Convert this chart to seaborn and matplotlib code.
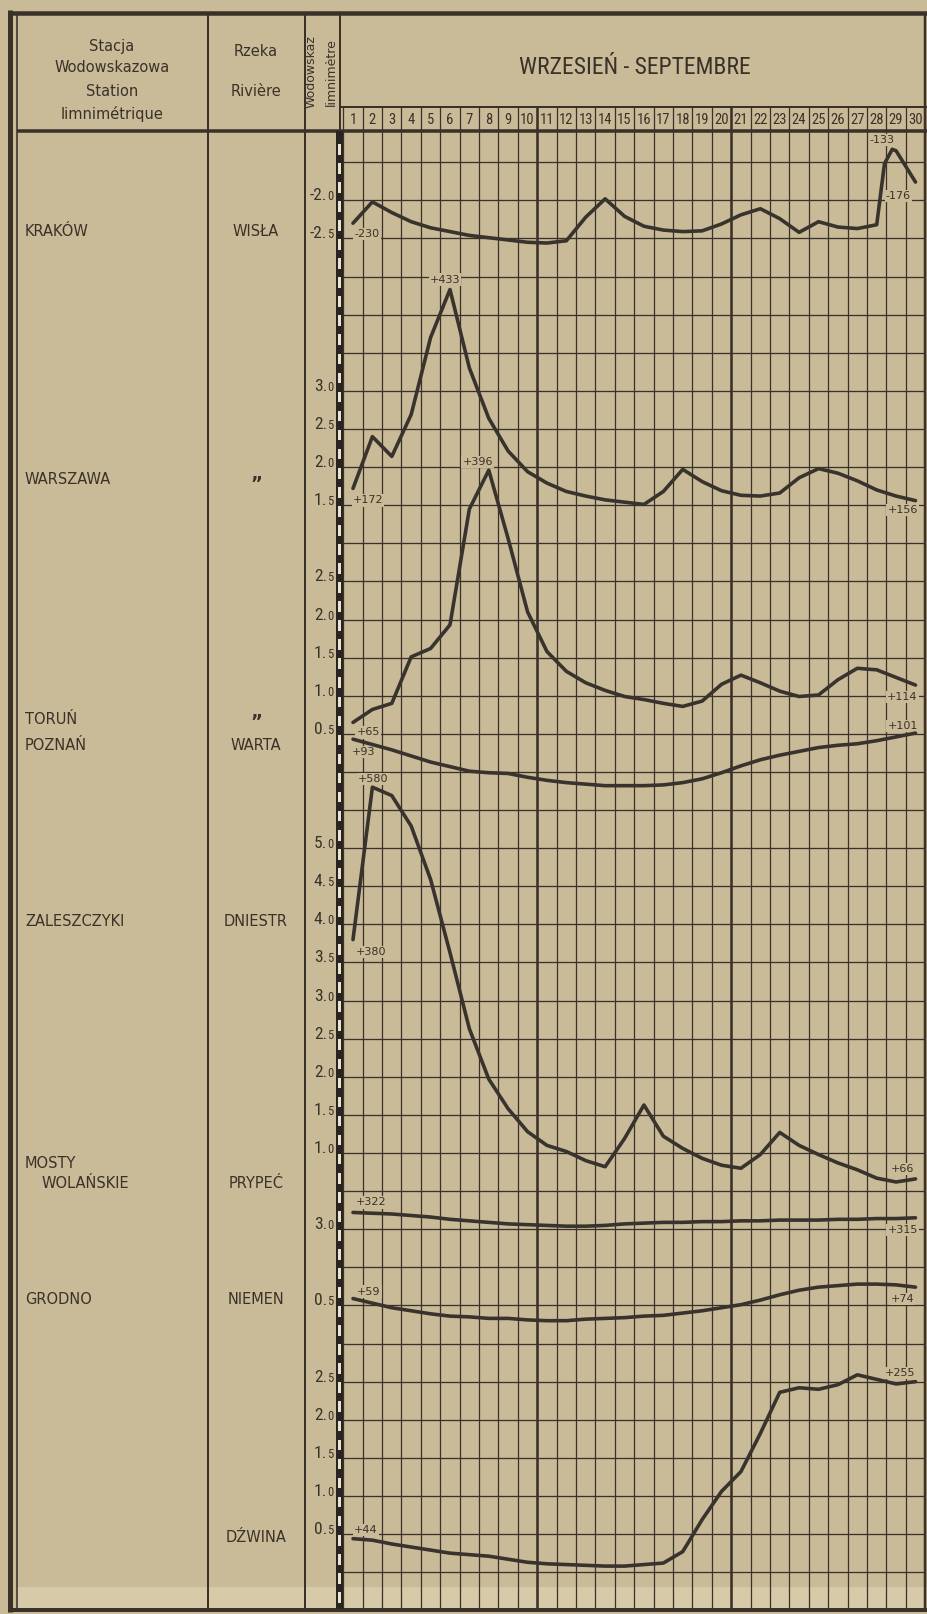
import numpy as np
import pandas as pd
import matplotlib
matplotlib.use("Agg")
import matplotlib.pyplot as plt
import matplotlib.transforms as mtransforms
from matplotlib import font_manager as fm
from matplotlib.patches import Rectangle
import seaborn as sns

# ---------------- data ----------------
days = list(range(1, 31))
day_labels = [str(d) for d in days]
title = "WRZESIEŃ - SEPTEMBRE"

station_names = ["KRAKÓW", "WARSZAWA", "TORUŃ", "POZNAŃ", "ZALESZCZYKI", "MOSTY", "WOLAŃSKIE", "GRODNO"]
river_names = ["WISŁA", "”", "”", "WARTA", "DNIESTR", "PRYPEĆ", "NIEMEN", "DŹWINA"]

# water levels (cm) read per day
krakow_days = days[:27] + [28, 28.4, 28.8, 29, 30]
krakow_cm = [-230, -202, -216, -228, -236, -241, -246, -249, -252, -255, -256, -253, -222, -198,
             -221, -234, -239, -241, -240, -231, -219, -211, -224, -242, -228, -235, -237,
             -232, -152, -133, -135, -176]
warszawa_cm = [172, 240, 214, 269, 370, 433, 330, 264, 221, 194, 179, 168, 162, 157, 154,
               151, 168, 197, 181, 169, 163, 162, 166, 186, 198, 192, 182, 170, 162, 156]
torun_cm = [65, 82, 90, 151, 162, 193, 345, 396, 306, 210, 158, 132, 117, 107, 99,
            95, 90, 86, 93, 115, 127, 117, 106, 99, 101, 121, 136, 134, 124, 114]
poznan_cm = [93, 86, 79, 71, 63, 57, 51, 49, 48, 43, 39, 36, 34, 32, 32,
             32, 33, 36, 41, 49, 58, 66, 72, 77, 82, 85, 87, 91, 96, 101]
zaleszczyki_cm = [380, 580, 569, 529, 459, 363, 263, 197, 158, 128, 110, 102, 90, 82, 119,
                  163, 122, 106, 93, 84, 80, 98, 127, 110, 98, 87, 78, 67, 62, 66]
prypec_cm = [322, 321, 320, 318, 316, 313, 311, 309, 307, 306, 305, 304, 304, 305, 307,
             308, 309, 309, 310, 310, 311, 311, 312, 312, 312, 313, 313, 314, 314, 315]
niemen_cm = [59, 53, 47, 43, 39, 36, 35, 33, 33, 31, 30, 30, 32, 33, 34,
             36, 37, 40, 43, 47, 51, 57, 64, 70, 74, 76, 78, 78, 77, 74]
dzwina_cm = [44, 42, 37, 33, 29, 25, 23, 21, 17, 13, 11, 10, 9, 8, 8,
             10, 12, 27, 69, 106, 132, 182, 236, 242, 240, 246, 259, 253, 247, 250]

# gauge zero of each station on the common sheet (m)
offsets = {"krakow": 20.0, "warszawa": 12.5, "torun": 10.5, "poznan": 10.0,
           "zaleszczyki": 4.5, "prypec": 1.5, "niemen": 3.0, "dzwina": 0.0}

# scale labels printed on the gauge column (m)
scale_ticks = {"krakow": [-2.0, -2.5], "warszawa": [3.0, 2.5, 2.0, 1.5],
               "torun": [2.5, 2.0, 1.5, 1.0, 0.5],
               "zaleszczyki": [5.0, 4.5, 4.0, 3.5, 3.0, 2.5, 2.0, 1.5, 1.0],
               "prypec": [3.0], "niemen": [0.5], "dzwina": [2.5, 2.0, 1.5, 1.0, 0.5]}

# printed readings: (station, day, text)
notes = [("krakow", 1, "-230"), ("krakow", 28.8, "-133"), ("krakow", 30, "-176"),
         ("warszawa", 6, "+433"), ("warszawa", 1, "+172"), ("warszawa", 30, "+156"),
         ("torun", 8, "+396"), ("torun", 1, "+65"), ("torun", 30, "+114"),
         ("poznan", 1, "+93"), ("poznan", 30, "+101"),
         ("zaleszczyki", 2, "+580"), ("zaleszczyki", 1, "+380"), ("zaleszczyki", 30, "+66"),
         ("prypec", 1, "+322"), ("prypec", 30, "+315"),
         ("niemen", 1, "+59"), ("niemen", 30, "+74"),
         ("dzwina", 1, "+44"), ("dzwina", 30, "+255")]

series = {"krakow": (krakow_days, krakow_cm), "warszawa": (days, warszawa_cm),
          "torun": (days, torun_cm), "poznan": (days, poznan_cm),
          "zaleszczyki": (days, zaleszczyki_cm), "prypec": (days, prypec_cm),
          "niemen": (days, niemen_cm), "dzwina": (days, dzwina_cm)}

frames = []
for key, (dd, cm) in series.items():
    frames.append(pd.DataFrame({"station": key, "day": dd, "cm": cm}))
df = pd.concat(frames, ignore_index=True)
df["level"] = df["cm"] / 100.0 + df["station"].map(offsets)

# ---------------- style ----------------
sns.set_theme(style="white")
names = {f.name for f in fm.fontManager.ttflist}
NARROW = None
for cand in ["Roboto Condensed", "Archivo Narrow", "Liberation Sans Narrow", "Asap Condensed"]:
    if cand in names:
        NARROW = cand
        break
plt.rcParams["font.family"] = ["DejaVu Sans"]

PAPER = "#c9ba98"
LIGHT = "#d6caa9"
INK = "#3a3129"
CURVE = "#39332e"

W, H = 927, 1614
fig = plt.figure(figsize=(W / 100, H / 100), dpi=100, facecolor=PAPER)

cv = fig.add_axes([0, 0, 1, 1])
cv.set_xlim(0, W)
cv.set_ylim(H, 0)
cv.axis("off")
cv.set_zorder(0)

# plot area geometry (pixels)
X0, X1 = 343.3, 925.2
YT, YB = 131.0, 1609.0
LV_TOP, LV_BOT = 18.91, -0.483
ax = fig.add_axes([X0 / W, 1 - YB / H, (X1 - X0) / W, (YB - YT) / H])
ax.set_zorder(2)
ax.patch.set_alpha(0)
ax.set_xlim(0.5, 30.5)
ax.set_ylim(LV_BOT, LV_TOP)
for s in ax.spines.values():
    s.set_visible(False)
ax.set_xticks([])
ax.set_yticks([])

lw_px = 72 / 100.0  # points per pixel

# light band near the bottom edge (paper wear)
cv.add_patch(Rectangle((17, 1587), 910, 22, color=LIGHT, lw=0, zorder=0.5))

# grid
bounds = np.arange(0.5, 31, 1.0)
for b in bounds:
    thick = b in (10.5, 20.5)
    ax.vlines(b, 0, 1 + 24 / (YB - YT), transform=ax.get_xaxis_transform(), clip_on=False,
              color=INK, lw=(2.6 if thick else 1.25) * lw_px, zorder=1)
for lv in np.arange(0, 18.6, 0.5):
    ax.axhline(lv, color=INK, lw=1.3 * lw_px, zorder=1)

# curves
sns.lineplot(data=df, x="day", y="level", units="station", estimator=None, sort=False,
             color=CURVE, linewidth=3.6 * lw_px, legend=False, ax=ax, zorder=3)
ax.set_xlabel("")
ax.set_ylabel("")
for ln in ax.lines[-8:]:
    ln.set_solid_capstyle("round")
    ln.set_solid_joinstyle("round")

# table frame
def hl(y, x0, x1, w):
    cv.plot([x0, x1], [y, y], color=INK, lw=w * lw_px, solid_capstyle="butt", zorder=2)

def vl(x, y0, y1, w):
    cv.plot([x, x], [y0, y1], color=INK, lw=w * lw_px, solid_capstyle="butt", zorder=2)

hl(12.5, 8, W, 4.5)
hl(1610, 8, W, 4.0)
vl(10.5, 10, 1612, 5.0)
vl(17, 12, 1610, 1.6)
vl(208, 12, 1610, 2.0)
vl(305, 12, 1610, 2.0)
vl(340, 12, 131, 2.0)
vl(925.5, 12, 1610, 2.5)
hl(131, 17, W, 3.5)
hl(107, 340, W, 2.0)

# gauge staff (black bar with white marks every 0.25 m)
blend = mtransforms.blended_transform_factory(cv.transData, ax.transData)
ax.add_patch(Rectangle((336, LV_BOT), 7, LV_TOP - LV_BOT, transform=blend, clip_on=False,
                       color="#2a2420", lw=0, zorder=4))
for lv in np.arange(LV_BOT + 0.083, LV_TOP - 0.1, 0.25):
    ax.add_patch(Rectangle((338.3, lv), 2.6, 0.14, transform=blend, clip_on=False,
                           color="#ece3cc", lw=0, zorder=5))

# fonts
NF = [NARROW, "DejaVu Sans"] if NARROW else ["DejaVu Sans"]
num_big = 12.5 if NARROW else 10.5
num_small = 9 if NARROW else 7.5

# scale labels
for key, ticks in scale_ticks.items():
    for t in ticks:
        lv = t + offsets[key]
        s = f"{t:.1f}"
        big, small = s[:-1], s[-1]
        ax.text(327, lv, big, transform=blend, ha="right", va="baseline", fontsize=num_big,
                family=NF, color=INK, clip_on=False, zorder=6)
        ax.text(327, lv, small, transform=blend, ha="left", va="baseline", fontsize=num_small,
                family=NF, color=INK, clip_on=False, zorder=6)

# printed readings
note_offsets = {("krakow", 1): (14, 11), ("krakow", 28.8): (-10, -9), ("krakow", 30): (-17, 14),
                ("warszawa", 6): (-5, -10), ("warszawa", 1): (15, 12), ("warszawa", 30): (-13, 9),
                ("torun", 8): (-11, -8), ("torun", 1): (15, 10), ("torun", 30): (-13, 12),
                ("poznan", 1): (11, 13), ("poznan", 30): (-13, -7),
                ("zaleszczyki", 2): (1, -8), ("zaleszczyki", 1): (18, 12), ("zaleszczyki", 30): (-13, -10),
                ("prypec", 1): (18, -10), ("prypec", 30): (-13, 12),
                ("niemen", 1): (16, -7), ("niemen", 30): (-13, 12),
                ("dzwina", 1): (13, -9), ("dzwina", 30): (-15, -9)}
for key, d, txt in notes:
    row = df[(df["station"] == key) & (np.isclose(df["day"], d))].iloc[0]
    dx, dy = note_offsets[(key, d)]
    ax.annotate(txt, xy=(row["day"], row["level"]), xytext=(dx * lw_px, -dy * lw_px),
                textcoords="offset points", ha="center", va="center", fontsize=8,
                color=INK, annotation_clip=False, zorder=2.5,
                bbox=dict(boxstyle="square,pad=0.1", fc=PAPER, ec="none"))

# day numbers
hdr = mtransforms.blended_transform_factory(ax.transData, cv.transData)
for d, lab in zip(days, day_labels):
    ax.text(d, 120, lab, transform=hdr, ha="center", va="center", fontsize=10.5 if NARROW else 8.5,
            family=NF, color=INK, clip_on=False)

# header texts
cv.text(635, 67, title, ha="center", va="center", fontsize=17 if NARROW else 14,
        family=NF, color=INK)
for y, s in [(46, "Stacja"), (68, "Wodowskazowa"), (92, "Station"), (114, "limnimétrique")]:
    cv.text(112, y, s, ha="center", va="center", fontsize=10.5, color=INK)
for y, s in [(51, "Rzeka"), (92, "Rivière")]:
    cv.text(256, y, s, ha="center", va="center", fontsize=10.5, color=INK)
cv.text(311, 72, "Wodowskaz", rotation=90, ha="center", va="center", fontsize=9, color=INK)
cv.text(331, 72, "limnimètre", rotation=90, ha="center", va="center", fontsize=9, color=INK)

# station / river names
st_pos = [(25, 232), (25, 480), (25, 720), (25, 745), (25, 922), (25, 1163), (42, 1183), (25, 1299)]
rv_pos = [232, 484, 722, 745, 922, 1183, 1299, 1537]
for (x, y), s in zip(st_pos, station_names):
    cv.text(x, y, s, ha="left", va="center", fontsize=10.5, color=INK)
for y, s in zip(rv_pos, river_names):
    cv.text(256, y, s, ha="center", va="center", fontsize=13 if s == "”" else 10.5, color=INK,
            fontweight="bold" if s == "”" else "normal")

fig.savefig("out.png", dpi=100, facecolor=PAPER)
